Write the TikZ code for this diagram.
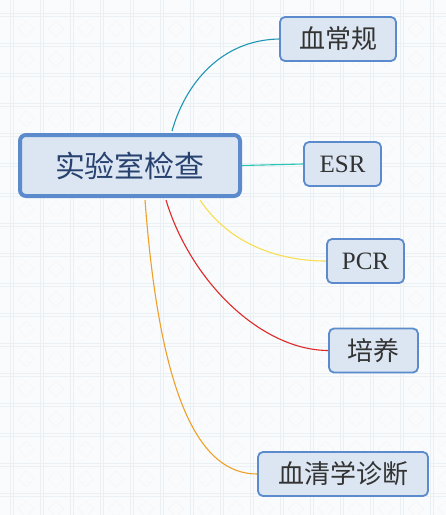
\documentclass[tikz,border=0pt]{standalone}
\usepackage{fontspec}
\setmainfont{Liberation Serif}
\newfontfamily\cjk{Noto Sans CJK SC}
\usetikzlibrary{calc}
\definecolor{boxline}{RGB}{91,139,204}
\definecolor{boxfill}{RGB}{220,230,242}
\definecolor{bgtile}{RGB}{234,240,244}
\definecolor{bgpaper}{RGB}{249,251,252}
\definecolor{maintext}{RGB}{40,66,112}
\definecolor{tealA}{RGB}{32,150,180}
\definecolor{tealB}{RGB}{40,196,180}
\definecolor{yel}{RGB}{248,222,80}
\definecolor{rd}{RGB}{224,40,40}
\definecolor{org}{RGB}{240,160,40}

\begin{document}
\begin{tikzpicture}[x=1pt,y=-1pt,
  topic/.style={draw=boxline,line width=4pt,fill=boxfill,rounded corners=6pt,
    minimum width=220pt,minimum height=61pt,inner sep=0pt,
    font=\cjk\fontsize{30}{32}\selectfont,text=maintext},
  sub/.style={draw=boxline,line width=1.8pt,fill=boxfill,rounded corners=5pt,
    minimum height=44pt,inner sep=0pt,font=\cjk\fontsize{26}{28}\selectfont,text=black!80},
  link/.style={line width=1.1pt}]
\useasboundingbox (0,0) rectangle (446,515);
% background tiles
\fill [bgpaper] (0,0) rectangle (446,515);
\foreach \i in {0,...,14} {
  \draw [bgtile, line width=0.8pt] (10+30*\i,0) -- (10+30*\i,515);
  \draw [bgtile, line width=0.8pt] (13+30*\i,0) -- (13+30*\i,515);
}
\foreach \j in {0,...,17} {
  \draw [bgtile, line width=0.8pt] (0,13+30*\j) -- (446,13+30*\j);
  \draw [bgtile, line width=0.8pt] (0,16+30*\j) -- (446,16+30*\j);
}
\foreach \i in {0,...,14}
  \foreach \j in {0,...,17}
    \draw [bgtile!60, line width=0.6pt] (26+30*\i,21+30*\j) -- (34+30*\i,29+30*\j) -- (26+30*\i,37+30*\j) -- (18+30*\i,29+30*\j) -- cycle;

% nodes
\node [topic] (lab) at (130,165.5) {实验室检查};
\node [sub, minimum width=116pt] (blood) at (338,39) {血常规};
\node [sub, minimum width=77pt, font=\fontsize{25}{28}\selectfont] (esr) at (342.5,164) {ESR};
\node [sub, minimum width=77pt, font=\fontsize{25}{28}\selectfont] (pcr) at (365.5,261) {PCR};
\node [sub, minimum width=89pt] (culture) at (373.5,350.5) {培养};
\node [sub, minimum width=170pt] (serum) at (343,474) {血清学诊断};

% links
\draw [link, tealA] ($(lab.north)+(42,-2)$) .. controls (185,85) and (220,40) .. (blood.west);
\draw [link, tealB] (lab.east) -- (esr.west);
\draw [link, yel] ($(lab.south)+(70,2)$) .. controls (230,245) and (280,261) .. (pcr.west);
\draw [link, rd] ($(lab.south)+(36,2)$) .. controls (190,280) and (260,350) .. (culture.west);
\draw [link, org] ($(lab.south)+(15,2)$) .. controls (160,400) and (200,474) .. (serum.west);
\end{tikzpicture}
\end{document}
